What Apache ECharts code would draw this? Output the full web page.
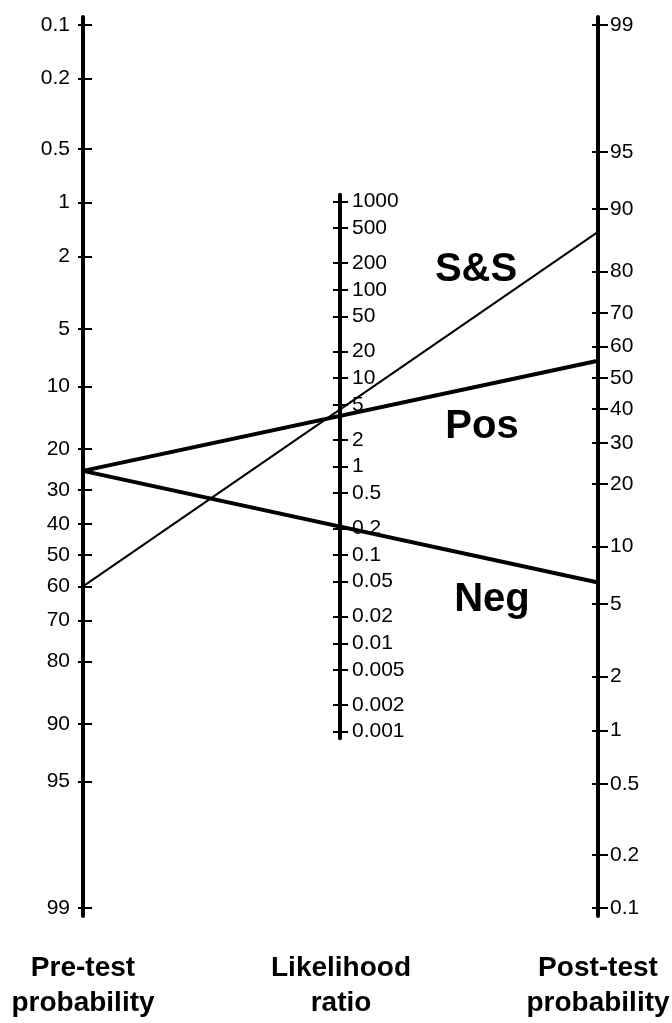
<!DOCTYPE html>
<html>
<head>
<meta charset="utf-8">
<script src="https://cdn.jsdelivr.net/npm/echarts@6/dist/echarts.min.js"></script>
<style>
  html, body { margin: 0; padding: 0; background: #ffffff; }
  #chart { width: 672px; height: 1023px; }
</style>
</head>
<body>
<div id="chart"></div>
<script>
// ---- Scale tick labels ----
const preTestTicks = [0.1, 0.2, 0.5, 1, 2, 5, 10, 20, 30, 40, 50, 60, 70, 80, 90, 95, 99];
const ratioTicks = [1000, 500, 200, 100, 50, 20, 10, 5, 2, 1, 0.5, 0.2, 0.1, 0.05, 0.02, 0.01, 0.005, 0.002, 0.001];
const postTestTicks = [99, 95, 90, 80, 70, 60, 50, 40, 30, 20, 10, 5, 2, 1, 0.5, 0.2, 0.1];

// ---- Test lines: pre-test probability (%) joined to post-test probability (%) ----
const testNames = ['S&S', 'Pos', 'Neg'];
const preTest = [60, 25, 25];
const postTest = [87, 55.5, 6.5];

// ---- Styling ----
const FONT = '"Liberation Sans", Arial, Helvetica, sans-serif';
const lineWidthByTest = { 'S&S': 2, 'Pos': 4, 'Neg': 4 };

// ---- Nomogram scales (logit for probabilities, half log for the ratio) ----
const logit = p => Math.log(p / (100 - p));
const TOP = -logit(0.1);
const BOTTOM = -logit(99);
const preU = p => -logit(p);
const postU = p => logit(p) + TOP + BOTTOM;
const ratioU = r => (TOP + BOTTOM) / 2 + Math.log(r) / 2;

// ---- Layout ----
const axisX = { pre: 83, ratio: 341, post: 598 };
const plotTop = 17, plotBottom = 916;
const pad = 0.104;
const uMin = BOTTOM - pad, uMax = TOP + pad;
const pxPerU = (plotBottom - plotTop) / (uMax - uMin);
const midPad = 0.085;
const midMax = ratioU(1000) + midPad, midMin = ratioU(0.001) - midPad;
const midTop = plotTop + (uMax - midMax) * pxPerU;
const midBottom = plotTop + (uMax - midMin) * pxPerU;

function tickSet(values, toU) {
  const entries = values.map(v => ({ u: toU(v), label: String(v) }));
  return {
    values: entries.map(e => e.u),
    format: val => {
      let best = entries[0];
      for (const e of entries) if (Math.abs(e.u - val) < Math.abs(best.u - val)) best = e;
      return best.label;
    }
  };
}
const preSet = tickSet(preTestTicks, preU);
const postSet = tickSet(postTestTicks, postU);
const ratioSet = tickSet(ratioTicks, ratioU);

function scaleAxis(opts) {
  // main axis: line, outward ticks and labels
  return {
    type: 'value', gridIndex: opts.grid, position: opts.position,
    min: opts.min, max: opts.max,
    splitLine: { show: false },
    axisLine: { show: true, lineStyle: { color: '#000', width: 4 } },
    axisTick: {
      show: true, inside: false, length: opts.outLen, customValues: opts.set.values,
      lineStyle: { color: '#000', width: 2 }
    },
    axisLabel: {
      show: true, margin: opts.margin, customValues: opts.set.values,
      formatter: opts.set.format,
      color: '#000', fontFamily: FONT, fontSize: 21
    }
  };
}
function innerTicks(opts) {
  // companion axis carrying the part of each tick on the other side of the line
  return {
    type: 'value', gridIndex: opts.grid, position: opts.position,
    min: opts.min, max: opts.max,
    splitLine: { show: false },
    axisLine: { show: false },
    axisTick: {
      show: true, inside: true, length: opts.inLen, customValues: opts.set.values,
      lineStyle: { color: '#000', width: 2 }
    },
    axisLabel: { show: false }
  };
}

const leftOpts = { grid: 0, position: 'left', min: uMin, max: uMax, outLen: 5, inLen: 9, margin: 13, set: preSet };
const rightOpts = { grid: 0, position: 'right', min: uMin, max: uMax, outLen: 10, inLen: 6, margin: 12, set: postSet };
const midOpts = { grid: 1, position: 'right', min: midMin, max: midMax, outLen: 8, inLen: 8, margin: 11, set: ratioSet };

const series = testNames.map((name, i) => ({
  type: 'line', name: name, xAxisIndex: 0, yAxisIndex: 0,
  data: [[0, preU(preTest[i])], [2, postU(postTest[i])]],
  symbol: 'none', silent: true, animation: false,
  lineStyle: { color: '#000', width: lineWidthByTest[name] }
}));

const titleStyle = { fill: '#000', font: 'bold 28px ' + FONT, textAlign: 'center', textVerticalAlign: 'top', lineHeight: 35 };
const tagStyle = { fill: '#000', font: 'bold 40px ' + FONT, textAlign: 'center', textVerticalAlign: 'middle' };

const option = {
  backgroundColor: '#ffffff',
  animation: false,
  grid: [
    { left: axisX.pre, top: plotTop, width: axisX.post - axisX.pre, height: plotBottom - plotTop },
    { left: axisX.ratio - 1, top: midTop, width: 1, height: midBottom - midTop }
  ],
  xAxis: [
    { type: 'value', gridIndex: 0, min: 0, max: 2, show: false },
    { type: 'value', gridIndex: 1, min: 0, max: 1, show: false }
  ],
  yAxis: [
    scaleAxis(leftOpts), scaleAxis(rightOpts), scaleAxis(midOpts),
    innerTicks(leftOpts), innerTicks(rightOpts), innerTicks(midOpts)
  ],
  series: series,
  graphic: [
    { type: 'text', x: axisX.pre, y: 951, style: Object.assign({ text: 'Pre-test\nprobability' }, titleStyle) },
    { type: 'text', x: axisX.ratio, y: 951, style: Object.assign({ text: 'Likelihood\nratio' }, titleStyle) },
    { type: 'text', x: axisX.post, y: 951, style: Object.assign({ text: 'Post-test\nprobability' }, titleStyle) },
    { type: 'text', x: 476, y: 270, style: Object.assign({ text: 'S&S' }, tagStyle) },
    { type: 'text', x: 482, y: 427, style: Object.assign({ text: 'Pos' }, tagStyle) },
    { type: 'text', x: 492, y: 600, style: Object.assign({ text: 'Neg' }, tagStyle) }
  ]
};

const chart = echarts.init(document.getElementById('chart'), null, { renderer: 'canvas' });
chart.setOption(option);
</script>
</body>
</html>
